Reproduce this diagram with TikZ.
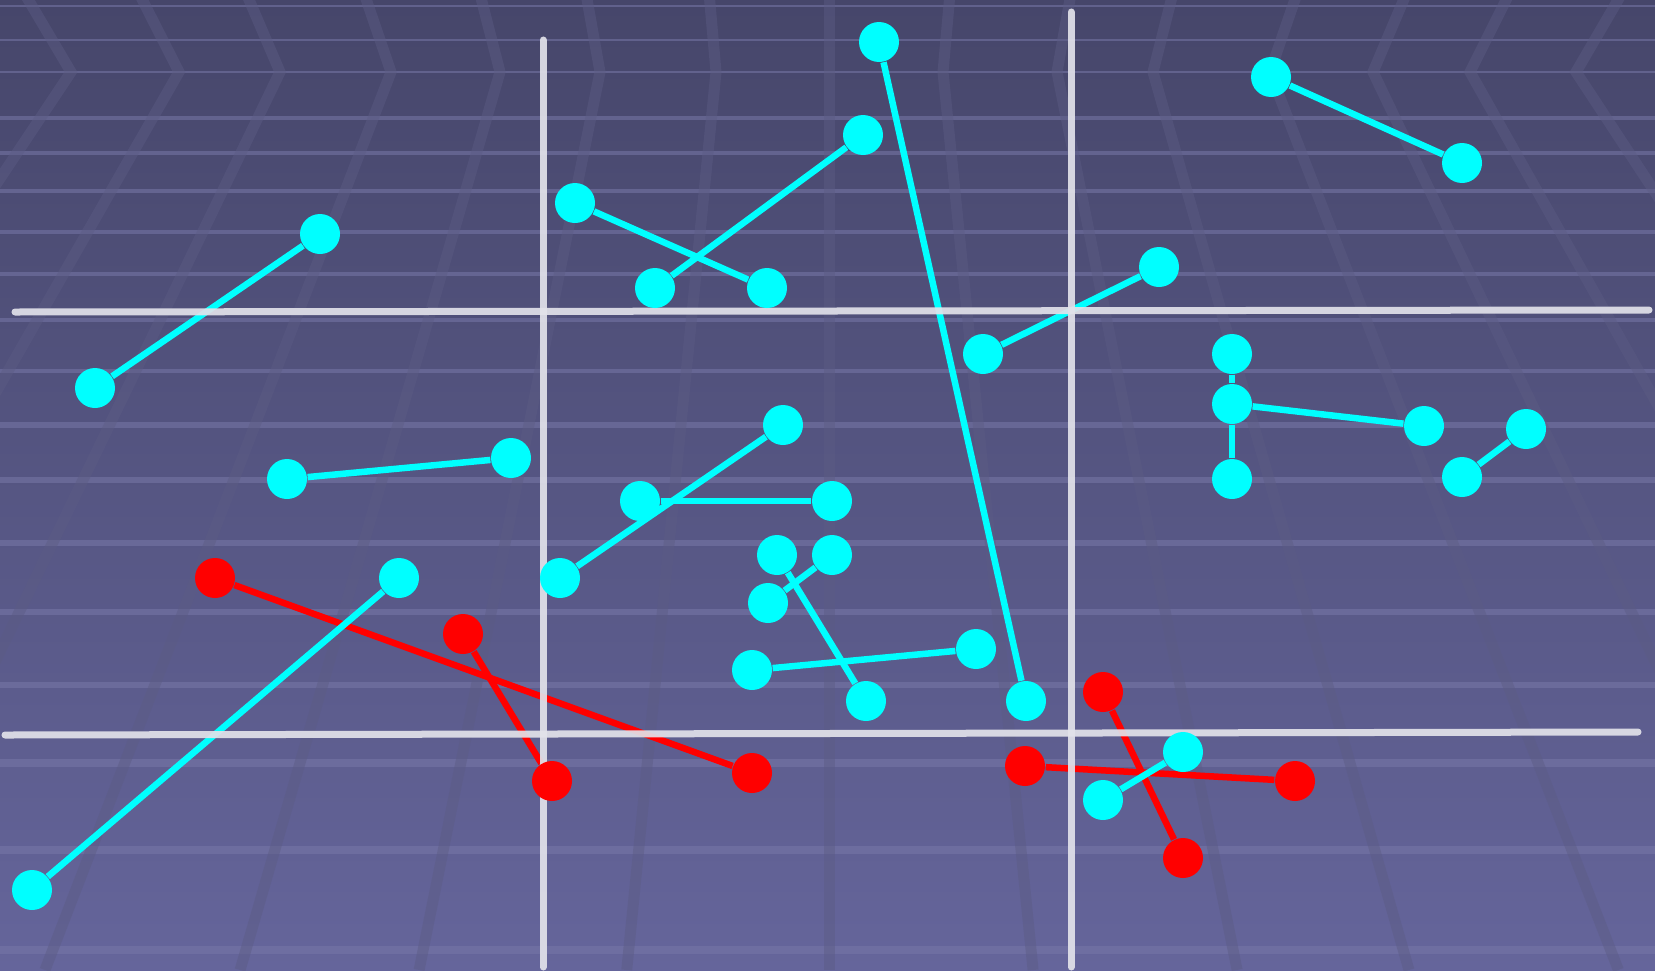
\documentclass[tikz,border=0pt]{standalone}
\usepackage{xcolor}
\usepackage{tikz}
\usetikzlibrary{calc}
\definecolor{bgtop}{HTML}{46466A}
\definecolor{bgbot}{HTML}{65659B}
\definecolor{gridc}{HTML}{7878A8}
\definecolor{perspc}{HTML}{5C5C84}
\definecolor{axisc}{HTML}{E2E2EA}
\definecolor{dotcyan}{HTML}{00FFFF}
\definecolor{dotred}{HTML}{FF0000}
\pgfdeclarelayer{bg}
\pgfsetlayers{bg,main}

\begin{document}
\begin{tikzpicture}[x=1cm, y=-1cm,
  dot/.style={circle, minimum size=0.4cm, inner sep=0},
  cdot/.style={dot, fill=dotcyan},
  rdot/.style={dot, fill=dotred},
  cseg/.style={draw=dotcyan, line width=0.065cm},
  rseg/.style={draw=dotred, line width=0.065cm},
  axisln/.style={draw=axisc, line width=0.07cm, line cap=round, opacity=0.92},
  gridln/.style={draw=gridc, opacity=0.55},
  persp/.style={draw=perspc, line width=0.11cm, opacity=0.45}
]
\useasboundingbox (0,0) rectangle (16.55,9.70);
% points
\foreach \n/\x/\y in {a1/3.20/2.34, a2/0.95/3.88, b1/5.75/2.03, b2/7.67/2.88,
    c1/8.63/1.35, c2/6.55/2.88, d1/8.79/0.42, d2/10.26/7.01,
    e1/11.59/2.67, e2/9.83/3.54, f1/12.71/0.77, f2/14.62/1.63,
    g1/12.32/3.54, g2/12.32/4.04, g3/12.32/4.79, g4/14.24/4.26,
    h1/15.26/4.29, h2/14.62/4.77, i1/2.87/4.79, i2/5.11/4.58,
    j1/7.83/4.25, j2/5.60/5.78, k1/6.40/5.01, k2/8.32/5.01,
    l1/7.77/5.55, l2/8.66/7.01, m1/8.32/5.55, m2/7.68/6.03,
    n1/7.52/6.70, n2/9.76/6.49, o1/3.99/5.78, o2/0.32/8.90,
    p1/11.83/7.52, p2/11.03/8.00}
  \node[cdot] (\n) at (\x,\y) {};
\foreach \n/\x/\y in {r1/2.15/5.78, r2/7.52/7.73, s1/4.63/6.34, s2/5.52/7.81,
    t1/11.03/6.92, t2/11.83/8.58, u1/10.25/7.66, u2/12.95/7.81}
  \node[rdot] (\n) at (\x,\y) {};
% axes
\coordinate (ha) at (0.15,3.12); \coordinate (hb) at (16.49,3.10);
\coordinate (hc) at (0.05,7.35); \coordinate (hd) at (16.38,7.32);
\coordinate (va) at (5.43,0.40); \coordinate (vb) at (5.43,9.67);
\coordinate (vc) at (10.71,0.12); \coordinate (vd) at (10.71,9.67);
\begin{pgfonlayer}{bg}
% background
\shade[top color=bgtop, bottom color=bgbot] (0,0) rectangle (16.55,9.70);
\begin{scope}
  \clip (0,0) rectangle (16.55,9.70);
  \foreach \y in {0.06,0.40,0.72,1.18,1.53,1.91,2.32,2.74,3.20,3.71,4.25,4.80,5.43,6.12,6.85,7.63,8.50,9.50}
    \draw[gridln, line width={(0.025+0.006*\y)*1cm}] (0,\y) -- (16.55,\y);
  \foreach \h in {0.71,1.79,2.80,3.91,5.00,6.00,7.16,8.29,9.43,10.57,11.53,12.70,13.73,14.70,15.76}
    \draw[persp] ({\h+(\h-8.29)*0.064},-0.1) -- (\h,0.72) -- ({8.29+(\h-8.29)*1.79},9.70);
\end{scope}
% links
\foreach \a/\b in {r1/r2, s1/s2, t1/t2, u1/u2}
  \draw[rseg] (\a) -- (\b);
\foreach \a/\b in {a1/a2, b1/b2, c1/c2, d1/d2, e1/e2, f1/f2, g1/g2, g2/g3, g2/g4,
    h1/h2, i1/i2, j1/j2, k1/k2, l1/l2, m1/m2, n1/n2, o1/o2, p1/p2}
  \draw[cseg] (\a) -- (\b);
\draw[axisln] (ha) -- (hb);
\draw[axisln] (hc) -- (hd);
\draw[axisln] (va) -- (vb);
\draw[axisln] (vc) -- (vd);
\end{pgfonlayer}
\end{tikzpicture}
\end{document}
